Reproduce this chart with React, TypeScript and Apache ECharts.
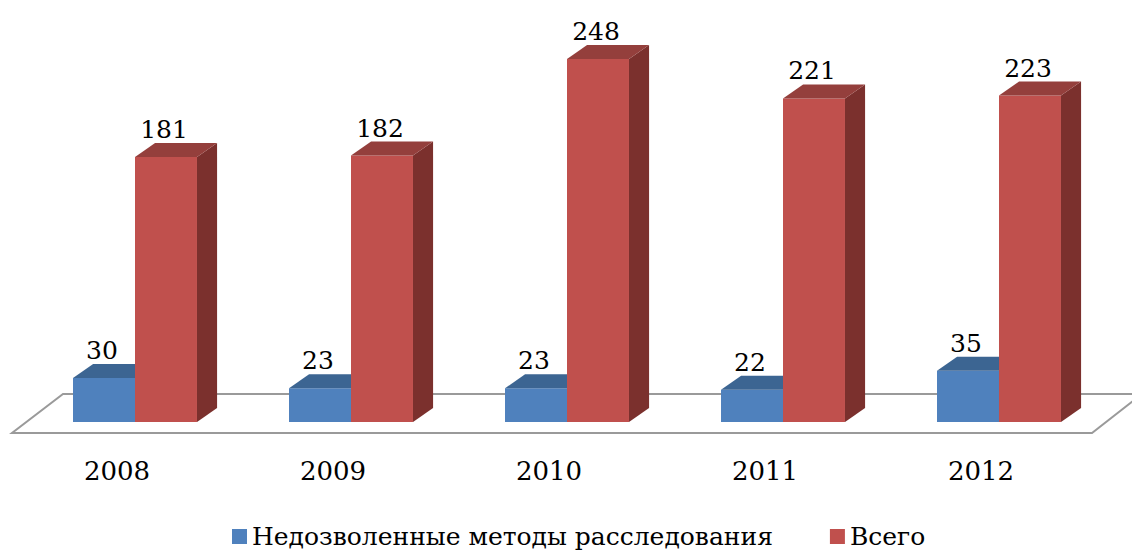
import React, { useEffect, useRef } from "react";
import * as echarts from "echarts";

const categories = ["2008", "2009", "2010", "2011", "2012"];
const illegalMethods = [30, 23, 23, 22, 35];
const totals = [181, 182, 248, 221, 223];
const seriesNames = ["Недозволенные методы расследования", "Всего"];

const FONT = "DejaVu Serif";

function barRenderer(side: number, front: string, top: string, sideCol: string) {
  return (params: any, api: any) => {
    const idx = api.value(0);
    const val = api.value(1);
    const base = api.coord([idx, 0]);
    const tp = api.coord([idx, val]);
    const band = api.size([1, 0])[0];
    const w = band * 0.287;
    const x0 = side === 0 ? base[0] - w : base[0];
    const x1 = x0 + w;
    const yb = base[1];
    const yt = tp[1];
    const dx = band * 0.093;
    const dy = -14;
    return {
      type: "group",
      children: [
        {
          type: "polygon",
          shape: { points: [[x1, yt], [x1 + dx, yt + dy], [x1 + dx, yb + dy], [x1, yb]] },
          style: { fill: sideCol },
        },
        {
          type: "rect",
          shape: { x: x0, y: yt, width: w, height: yb - yt },
          style: { fill: front },
        },
        {
          type: "polygon",
          shape: { points: [[x0, yt], [x1, yt], [x1 + dx, yt + dy], [x0 + dx, yt + dy]] },
          style: { fill: top },
        },
        {
          type: "text",
          x: (x0 + x1) / 2 - 2,
          y: yt + dy - 1,
          style: {
            text: String(val),
            font: "25px DejaVu Serif",
            fill: "#000",
            align: "center",
            verticalAlign: "bottom",
          },
        },
      ],
    };
  };
}

function floorRenderer(params: any, api: any) {
  const c = api.coord([0, 0]);
  const band = api.size([1, 0])[0];
  const gl = c[0] - band / 2;
  const gr = gl + band * categories.length;
  const by = c[1];
  return {
    type: "polygon",
    shape: {
      points: [
        [gl - 15, by + 11],
        [gr - 15, by + 11],
        [gr + 35, by - 28],
        [gl + 36, by - 28],
      ],
    },
    style: { fill: "#fff", stroke: "#9a9a9a", lineWidth: 2 },
  };
}

export default function App() {
  const ref = useRef<HTMLDivElement>(null);
  useEffect(() => {
    if (!ref.current) return;
    const chart = echarts.init(ref.current, null, { renderer: "svg" });
    chart.setOption({
      animation: false,
      backgroundColor: "#fff",
      textStyle: { fontFamily: FONT },
      grid: { left: 27, right: 25, top: 56, bottom: 131 },
      xAxis: {
        type: "category",
        data: categories,
        axisLine: { show: false },
        axisTick: { show: false },
        axisLabel: {
          margin: 36,
          fontSize: 26,
          fontFamily: FONT,
          color: "#000",
          padding: [0, 36, 0, 0],
        },
      },
      yAxis: { type: "value", min: 0, max: 250, show: false, splitLine: { show: false } },
      legend: {
        data: seriesNames,
        left: 227,
        top: 519,
        itemWidth: 15,
        itemHeight: 15,
        itemGap: 57,
        icon: "rect",
        textStyle: { fontSize: 25, fontFamily: FONT, color: "#000" },
      },
      series: [
        {
          type: "custom",
          name: "floor",
          silent: true,
          data: [[0, 0]],
          renderItem: floorRenderer,
        },
        {
          type: "custom",
          name: seriesNames[0],
          itemStyle: { color: "#4F81BD" },
          data: illegalMethods.map((v, i) => [i, v]),
          renderItem: barRenderer(0, "#4F81BD", "#3C6592", "#35587F"),
        },
        {
          type: "custom",
          name: seriesNames[1],
          itemStyle: { color: "#C0504D" },
          data: totals.map((v, i) => [i, v]),
          renderItem: barRenderer(1, "#C0504D", "#943F3C", "#7B302D"),
        },
      ],
    });
    return () => chart.dispose();
  }, []);
  return (
    <div
      ref={ref}
      style={{ position: "fixed", left: 0, top: 0, width: 1132, height: 553 }}
    />
  );
}
